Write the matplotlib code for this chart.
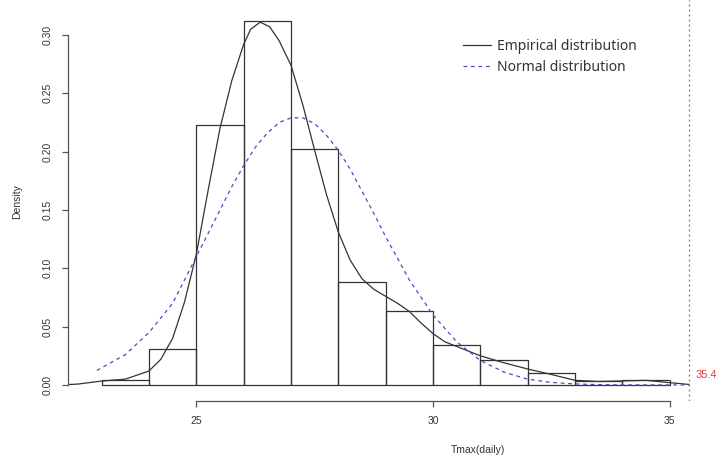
import numpy as np
import matplotlib
matplotlib.use('Agg')
import matplotlib.pyplot as plt

# Histogram of daily Tmax (density scale, breaks every 1 degree)
breaks = [23, 24, 25, 26, 27, 28, 29, 30, 31, 32, 33, 34, 35]
hist_density = [0.004, 0.031, 0.223, 0.312, 0.202, 0.088, 0.063, 0.034, 0.021, 0.010, 0.003, 0.004]

# Empirical (kernel) density curve
emp_x = [22.1, 22.5, 23.0, 23.5, 24.0, 24.25, 24.5, 24.75, 25.0, 25.25, 25.5, 25.75,
         26.0, 26.15, 26.35, 26.55, 26.75, 27.0, 27.25, 27.5, 27.75, 28.0, 28.25,
         28.5, 28.75, 29.0, 29.25, 29.5, 29.75, 30.0, 30.25, 30.5, 30.75, 31.0,
         31.5, 32.0, 32.5, 33.0, 33.5, 34.0, 34.5, 35.0, 35.4]
emp_y = [0.0, 0.0008, 0.0034, 0.005, 0.012, 0.022, 0.040, 0.071, 0.112, 0.167, 0.220, 0.261,
         0.292, 0.305, 0.311, 0.307, 0.295, 0.274, 0.240, 0.201, 0.163, 0.131, 0.107,
         0.091, 0.082, 0.076, 0.070, 0.063, 0.053, 0.044, 0.037, 0.033, 0.029, 0.025,
         0.019, 0.0137, 0.009, 0.004, 0.003, 0.0035, 0.004, 0.002, 0.0005]

# Fitted normal density curve
norm_x = [22.9, 23.5, 24.0, 24.5, 25.0, 25.5, 25.75, 26.0, 26.25, 26.5, 26.75, 27.0,
          27.25, 27.5, 27.75, 28.0, 28.25, 28.5, 28.75, 29.0, 29.5, 30.0, 30.5, 31.0,
          31.5, 32.0, 32.5, 33.0, 33.5, 34.0, 35.4]
norm_y = [0.0125, 0.026, 0.045, 0.070, 0.110, 0.150, 0.170, 0.188, 0.204, 0.216, 0.225, 0.229,
          0.229, 0.224, 0.214, 0.201, 0.185, 0.166, 0.147, 0.127, 0.090, 0.060, 0.037, 0.021,
          0.011, 0.005, 0.0022, 0.0009, 0.0003, 0.0001, 0.0]

tmax_max = 35.4
x_ticks = [25, 30, 35]
y_ticks = [0.00, 0.05, 0.10, 0.15, 0.20, 0.25, 0.30]

W, H = 722, 462
fig = plt.figure(figsize=(W / 100, H / 100), dpi=100)
# plot region in pixels: left 68, right 722, top 0, bottom 401
ax = fig.add_axes([68 / W, (H - 401) / H, 654 / W, 401 / H])

ink = '#333333'
ax.bar(breaks[:-1], hist_density, width=1, align='edge', fill=False,
       edgecolor=ink, linewidth=0.9)
ax.plot(emp_x, emp_y, color=ink, linewidth=0.9, label='Empirical distribution')
ax.plot(norm_x, norm_y, color='#4b4bc8', linewidth=0.9, linestyle=(0, (3, 3)),
        label='Normal distribution')

# max observed value
ax.axvline(tmax_max, color='#e04a4a', linewidth=0.9, linestyle=(0, (1.5, 2.5)))
ax.text(tmax_max + 0.15, 0.0086, '35.4', color='#e03a3a', fontsize=8,
        family='Liberation Sans', ha='left', va='center')

ax.set_xlim(22.29, 22.29 + 654 / 47.35)
ax.set_ylim(-16 / 1166.7, 385 / 1166.7)

# R-like axes: only left and bottom, limited to tick range
for side in ['top', 'right']:
    ax.spines[side].set_visible(False)
ax.spines['left'].set_bounds(0, 0.30)
ax.spines['bottom'].set_bounds(25, 35)
for side in ['left', 'bottom']:
    ax.spines[side].set_color('#555555')
    ax.spines[side].set_linewidth(0.9)

ax.set_xticks(x_ticks)
ax.set_yticks(y_ticks)
ax.set_xticklabels([str(t) for t in x_ticks])
ax.set_yticklabels(['%.2f' % t for t in y_ticks], rotation=90, va='center')
ax.tick_params(axis='both', direction='out', length=4, width=0.9, color='#555555',
               labelsize=7.5, labelcolor='#333333', pad=7)
for lbl in ax.get_xticklabels() + ax.get_yticklabels():
    lbl.set_family('Liberation Sans')

ax.text((478 - 68) / 654, (401 - 450) / 401, 'Tmax(daily)', transform=ax.transAxes,
        ha='center', va='center', fontsize=7.5, color='#333333', family='Liberation Sans')
ax.text((17 - 68) / 654, (401 - 202) / 401, 'Density', transform=ax.transAxes,
        ha='center', va='center', rotation=90, fontsize=7.5, color='#333333',
        family='Liberation Sans')

leg = ax.legend(loc='upper left', bbox_to_anchor=(463 / W, 1 - 39 / H),
                bbox_transform=fig.transFigure, frameon=False,
                prop={'family': 'Noto Sans', 'size': 10}, handlelength=2.0,
                handletextpad=0.45, labelspacing=0.45, borderpad=0, borderaxespad=0)
for t in leg.get_texts():
    t.set_color('#333333')

fig.savefig('out.png', dpi=100)
